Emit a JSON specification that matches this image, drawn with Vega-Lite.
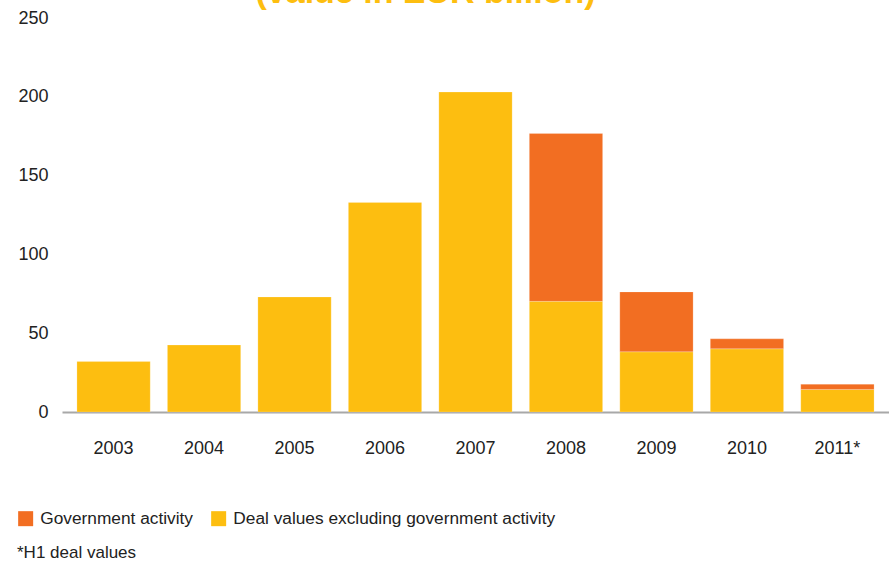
{
  "$schema": "https://vega.github.io/schema/vega-lite/v6.json",
  "width": 827,
  "height": 394,
  "autosize": "none",
  "padding": {"left": 62, "top": 18, "right": 0, "bottom": 152},
  "background": "white",
  "title": {
    "text": "(value in EUR billion)",
    "color": "#FDBE10",
    "fontSize": 34,
    "fontWeight": "bold",
    "font": "Liberation Sans",
    "anchor": "middle",
    "dx": -50,
    "offset": -1
  },
  "data": {
    "values": [
      {"year": "2003", "series": "Deal values excluding government activity", "value": 32, "ord": 1},
      {"year": "2004", "series": "Deal values excluding government activity", "value": 42.5, "ord": 1},
      {"year": "2005", "series": "Deal values excluding government activity", "value": 73, "ord": 1},
      {"year": "2006", "series": "Deal values excluding government activity", "value": 133, "ord": 1},
      {"year": "2007", "series": "Deal values excluding government activity", "value": 203, "ord": 1},
      {"year": "2008", "series": "Deal values excluding government activity", "value": 70.2, "ord": 1},
      {"year": "2008", "series": "Government activity", "value": 106.5, "ord": 2},
      {"year": "2009", "series": "Deal values excluding government activity", "value": 38.2, "ord": 1},
      {"year": "2009", "series": "Government activity", "value": 38, "ord": 2},
      {"year": "2010", "series": "Deal values excluding government activity", "value": 40.1, "ord": 1},
      {"year": "2010", "series": "Government activity", "value": 6.3, "ord": 2},
      {"year": "2011*", "series": "Deal values excluding government activity", "value": 14.3, "ord": 1},
      {"year": "2011*", "series": "Government activity", "value": 3.3, "ord": 2}
    ]
  },
  "mark": {"type": "bar", "stroke": "white", "strokeOpacity": 0.4, "strokeWidth": 0.5},
  "encoding": {
    "x": {
      "field": "year",
      "type": "nominal",
      "sort": null,
      "title": null,
      "scale": {"paddingInner": 0.19, "paddingOuter": 0.165},
      "axis": {
        "labelAngle": 0,
        "ticks": false,
        "domainColor": "#A8A8A8",
        "domainWidth": 2,
        "labelPadding": 27,
        "labelFont": "Liberation Sans",
        "labelFontSize": 18,
        "labelColor": "#222222"
      }
    },
    "y": {
      "field": "value",
      "type": "quantitative",
      "stack": "zero",
      "title": null,
      "scale": {"domain": [0, 250]},
      "axis": {
        "values": [0, 50, 100, 150, 200, 250],
        "grid": false,
        "ticks": false,
        "domain": false,
        "labelPadding": 14,
        "labelFont": "Liberation Sans",
        "labelFontSize": 18,
        "labelColor": "#222222"
      }
    },
    "color": {
      "field": "series",
      "type": "nominal",
      "scale": {
        "domain": ["Government activity", "Deal values excluding government activity"],
        "range": ["#F26E22", "#FDBE10"]
      },
      "legend": {
        "title": "*H1 deal values",
        "titleOrient": "bottom",
        "titleAnchor": "start",
        "titleFont": "Liberation Sans",
        "titleFontSize": 17,
        "titleFontWeight": "normal",
        "titleColor": "#222222",
        "titlePadding": 18,
        "orient": "none",
        "legendX": -45,
        "legendY": 492,
        "direction": "horizontal",
        "symbolType": "square",
        "symbolSize": 225,
        "symbolStrokeWidth": 0,
        "labelFont": "Liberation Sans",
        "labelFontSize": 17.3,
        "labelLimit": 500,
        "labelColor": "#222222",
        "columnPadding": 16,
        "labelOffset": 6
      }
    },
    "order": {"field": "ord", "type": "quantitative"}
  },
  "config": {"view": {"stroke": null}}
}
